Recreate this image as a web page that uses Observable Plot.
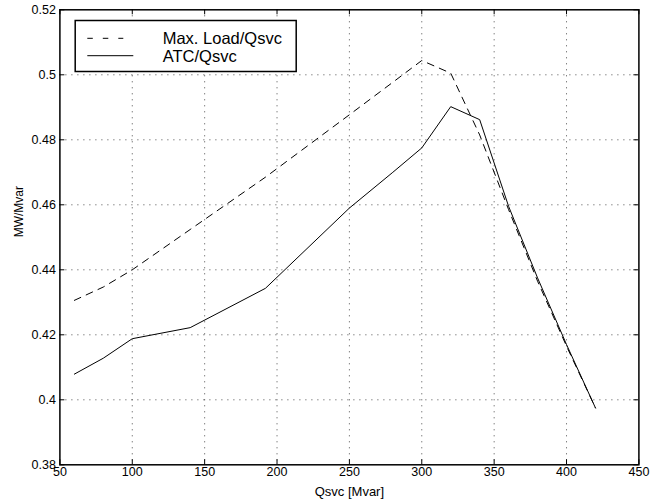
<!DOCTYPE html>
<html>
<head>
<meta charset="utf-8">
<script src="https://cdn.jsdelivr.net/npm/d3@7"></script>
<script src="https://cdn.jsdelivr.net/npm/@observablehq/plot@0.6"></script>
<style>
  html, body { margin: 0; padding: 0; background: #fff; }
  #wrap { position: relative; width: 665px; height: 502px; font-family: "Liberation Sans", Arial, Helvetica, sans-serif; }
  #legend { position: absolute; left: 0; top: 0; pointer-events: none; }
</style>
</head>
<body>
<div id="wrap"></div>
<script>
// ---- data ----
const qsvc    = [60, 80, 100, 140, 192, 250, 280, 300, 320, 340, 360, 380, 400, 420];
const maxLoad = [0.4306, 0.4347, 0.4400, 0.4524, 0.4685, 0.4877, 0.4977, 0.5044, 0.5005, 0.4815, 0.4585, 0.4365, 0.4165, 0.3975];
const atc     = [0.4079, 0.4128, 0.4188, 0.4222, 0.4343, 0.4590, 0.4700, 0.4775, 0.4902, 0.4862, 0.4595, 0.4375, 0.4170, 0.3975];

const seriesNames = ["Max. Load/Qsvc", "ATC/Qsvc"];
const xTicks = [50, 100, 150, 200, 250, 300, 350, 400, 450];
const yTicks = [0.38, 0.40, 0.42, 0.44, 0.46, 0.48, 0.50, 0.52];
const xLabel = "Qsvc [Mvar]";
const yLabel = "MW/Mvar";

const xDomain = [50, 450];
const yDomain = [0.38, 0.52];

const maxRows = qsvc.map((q, i) => ({q, v: maxLoad[i]}));
const atcRows = qsvc.map((q, i) => ({q, v: atc[i]}));
const xInner = xTicks.slice(1, -1);
const yInner = yTicks.slice(1, -1);

const W = 665, H = 502;
const mL = 59.4, mR = 26.6, mT = 9.3, mB = 37.7;

const chart = Plot.plot({
  width: W, height: H,
  marginLeft: mL, marginRight: mR, marginTop: mT, marginBottom: mB,
  x: {domain: xDomain, label: null},
  y: {domain: yDomain, label: null},
  style: {fontFamily: '"Liberation Sans", Arial, Helvetica, sans-serif', fontSize: "12.5px", color: "#000", background: "#fff"},
  marks: [
    Plot.gridX(xInner, {stroke: "#000", strokeOpacity: 0.7, strokeDasharray: "1,5"}),
    Plot.gridY(yInner, {stroke: "#000", strokeOpacity: 0.7, strokeDasharray: "1,5"}),
    // inward ticks, all four sides
    Plot.ruleX(xTicks, {x: d => d, y1: yDomain[0], y2: yDomain[0], insetTop: -5, stroke: "#000"}),
    Plot.ruleX(xTicks, {x: d => d, y1: yDomain[1], y2: yDomain[1], insetBottom: -5, stroke: "#000"}),
    Plot.ruleY(yTicks, {y: d => d, x1: xDomain[0], x2: xDomain[0], insetRight: -5, stroke: "#000"}),
    Plot.ruleY(yTicks, {y: d => d, x1: xDomain[1], x2: xDomain[1], insetLeft: -5, stroke: "#000"}),
    Plot.axisX(xTicks, {tickSize: 0, tickPadding: 2.5, fontSize: 12.5, label: null}),
    Plot.axisY(yTicks, {tickSize: 0, tickPadding: 4, fontSize: 12.5, label: null, tickFormat: d3.format("~g")}),
    Plot.line(maxRows, {x: "q", y: "v", stroke: "#000", strokeWidth: 1, strokeDasharray: "7,6"}),
    Plot.line(atcRows, {x: "q", y: "v", stroke: "#000", strokeWidth: 1}),
    Plot.frame({stroke: "#000", strokeWidth: 1.5}),
    Plot.text([xLabel], {text: d => d, frameAnchor: "bottom", lineAnchor: "middle", dy: 27, fontSize: 13}),
    Plot.text([yLabel], {text: d => d, frameAnchor: "left", rotate: -90, dx: -41, fontSize: 12})
  ]
});

const wrap = document.getElementById("wrap");
wrap.appendChild(chart);

// ---- legend overlay ----
const ns = "http://www.w3.org/2000/svg";
const leg = document.createElementNS(ns, "svg");
leg.setAttribute("id", "legend");
leg.setAttribute("width", W);
leg.setAttribute("height", H);
const box = document.createElementNS(ns, "rect");
box.setAttribute("x", 75.2); box.setAttribute("y", 20.5);
box.setAttribute("width", 221); box.setAttribute("height", 51);
box.setAttribute("fill", "#fff"); box.setAttribute("stroke", "#000"); box.setAttribute("stroke-width", 1.5);
leg.appendChild(box);
const styles = ["5.5,10", null];
const rowsY = [38.3, 55.7];
const sampleEnd = [123.3, 133.3];
seriesNames.forEach((name, i) => {
  const ln = document.createElementNS(ns, "line");
  ln.setAttribute("x1", 87.3); ln.setAttribute("x2", sampleEnd[i]);
  ln.setAttribute("y1", rowsY[i]); ln.setAttribute("y2", rowsY[i]);
  ln.setAttribute("stroke", "#000"); ln.setAttribute("stroke-width", 1);
  if (styles[i]) ln.setAttribute("stroke-dasharray", styles[i]);
  leg.appendChild(ln);
  const t = document.createElementNS(ns, "text");
  t.setAttribute("x", 162.7); t.setAttribute("y", rowsY[i] + 6);
  t.setAttribute("font-size", "16.5px");
  t.setAttribute("font-family", '"Liberation Sans", Arial, Helvetica, sans-serif');
  t.textContent = name;
  leg.appendChild(t);
});
wrap.appendChild(leg);
</script>
</body>
</html>
